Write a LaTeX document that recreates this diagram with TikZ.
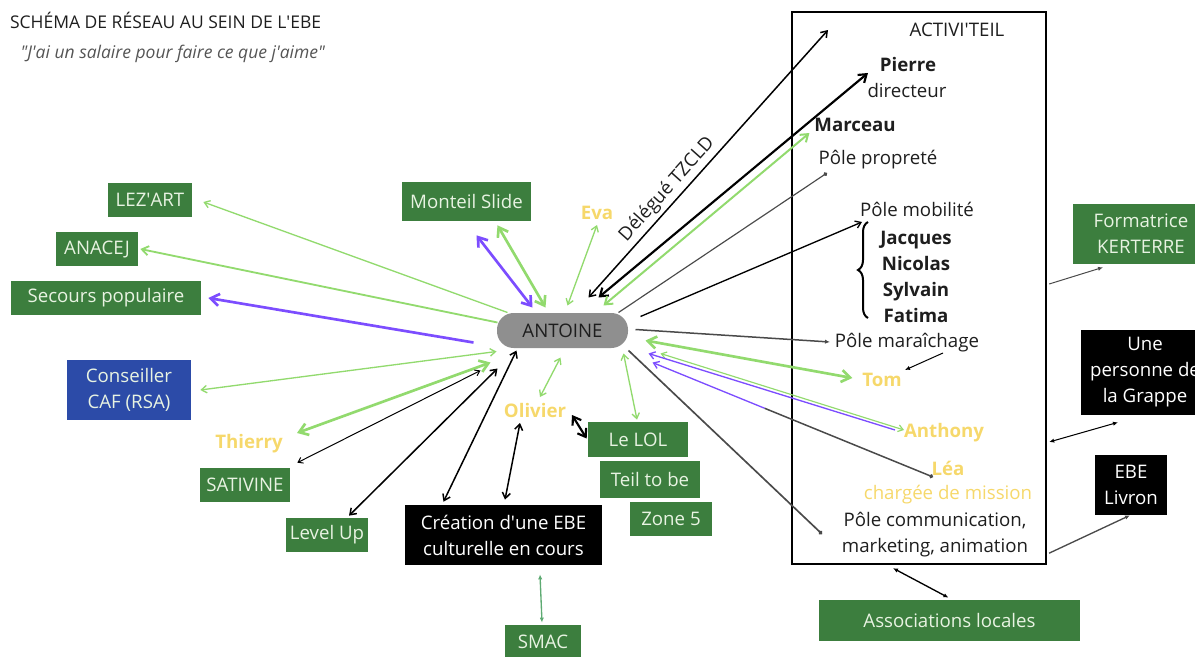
\documentclass[tikz,border=0pt]{standalone}
\usepackage{fontspec}
\setmainfont{Open Sans}
\usepackage{tikz}
\usetikzlibrary{calc,arrows.meta,decorations.pathreplacing,fit}
\definecolor{ink}{HTML}{1E1E1E}
\definecolor{muted}{HTML}{555555}
\definecolor{boxgreen}{HTML}{3C7E3E}
\definecolor{boxtext}{HTML}{E8F3E2}
\definecolor{cafblue}{HTML}{2C4BA8}
\definecolor{namey}{HTML}{F6D86B}
\definecolor{lgreen}{HTML}{92DA6E}
\definecolor{purp}{HTML}{7C4DFF}
\definecolor{pill}{HTML}{8F8F8F}
\definecolor{smacgreen}{HTML}{5DAA72}
\definecolor{wire}{HTML}{4A4A4A}
\newcommand{\ap}{\textquotesingle}
\tikzset{
  gbox/.style={fill=boxgreen, text=boxtext, inner sep=0pt, align=center},
  kbox/.style={fill=black, text=white, inner sep=0pt, align=center},
  lab/.style={text=ink, inner sep=1pt},
  who/.style={text=namey, font=\bfseries, inner sep=1pt},
  boss/.style={text=ink, font=\bfseries, inner sep=1pt},
  lg/.style={draw=lgreen, line width=0.8pt},
  lgb/.style={draw=lgreen, line width=1.6pt},
  pu/.style={draw=purp, line width=0.8pt},
  pub/.style={draw=purp, line width=1.6pt},
  bk/.style={draw=black, line width=0.9pt},
  gr/.style={draw=wire, line width=0.7pt},
  dotend/.style={-{Circle[length=2.4pt]}},
  small/.style={>={Latex[length=3pt,width=2.6pt]}}
}

\begin{document}
\fontsize{11.2pt}{15.6pt}\selectfont
\begin{tikzpicture}[x=0.6pt, y=-0.6pt, >={Straight Barb[angle=70:1.5pt 3]}]
  \clip (0,0) rectangle (1195,657);

  \node[lab, anchor=west, font=\fontsize{10.5pt}{13pt}\selectfont] (titre) at (8,20) {SCHÉMA DE RÉSEAU AU SEIN DE L\ap EBE};
  \node[anchor=west, text=muted, font=\fontsize{10.5pt}{13pt}\selectfont\itshape] (devise) at (14,54) {\textquotedbl J\ap ai un salaire pour faire ce que j\ap aime\textquotedbl};

  % cadre Activi'teil
  \node[draw=black, line width=1.4pt, fit={(792,12) (1046,564)}, inner sep=0pt] (activ) {};
  \node[lab] (activiteil) at (957,30) {ACTIVI\ap TEIL};
  \node[boss] (pierre) at (908,65) {Pierre};
  \node[lab] (directeur) at (907,91) {directeur};
  \node[boss] (marceau) at (855,125) {Marceau};
  \node[lab] (proprete) at (878,160) {Pôle propreté};
  \node[lab] (mobilite) at (917,209) {Pôle mobilité};
  \foreach \nom [count=\i] in {Jacques,Nicolas,Sylvain,Fatima}
    \node[boss, anchor=base] (equipe\i) at (916,218+26*\i) {\nom};
  \draw[black, line width=1.2pt, decorate, decoration={brace, amplitude=6pt}] (868,318) -- (868,222);
  \node[lab] (maraichage) at (907,343) {Pôle maraîchage};
  \node[who] (tom) at (882,380) {Tom};
  \node[who] (anthony) at (944,433) {Anthony};
  \node[who] (lea) at (948,468) {Léa};
  \node[lab, text=namey] (mission) at (948,495) {chargée de mission};
  \node[lab, align=center] (communication) at (935,535) {Pôle communication,\\marketing, animation};

  % partenaires
  \node[gbox, minimum width=81.6pt, minimum height=36pt] (kerterre) at (1141,234) {Formatrice\\KERTERRE};
  \node[kbox, minimum width=76.8pt, minimum height=51pt] (grappe) at (1145,372.5) {Une\\personne de\\la Grappe};
  \node[kbox, minimum width=43.2pt, minimum height=36pt] (livron) at (1131,485) {EBE\\Livron};
  \node[gbox, minimum width=156.6pt, minimum height=24.6pt] (assoc) at (949.5,620.5) {Associations locales};
  \node[gbox, minimum width=50.4pt, minimum height=20.4pt] (lezart) at (150,200) {LEZ\ap ART};
  \node[gbox, minimum width=49.2pt, minimum height=20.4pt] (anacej) at (97,249) {ANACEJ};
  \node[gbox, minimum width=114pt, minimum height=20.4pt] (secours) at (106,298) {Secours populaire};
  \node[gbox, fill=cafblue, minimum width=74.4pt, minimum height=36pt] (caf) at (129,390) {Conseiller\\CAF (RSA)};
  \node[who] (thierry) at (249,444) {Thierry};
  \node[gbox, minimum width=54pt, minimum height=20.4pt] (sativine) at (245,485) {SATIVINE};
  \node[gbox, minimum width=49.2pt, minimum height=20.4pt] (levelup) at (327,535) {Level Up};
  \node[kbox, minimum width=118.2pt, minimum height=36pt] (creation) at (503.5,535) {Création d\ap une EBE\\culturelle en cours};
  \node[gbox, minimum width=45.6pt, minimum height=20.4pt] (smac) at (543,642) {SMAC};
  \node[gbox, minimum width=77.4pt, minimum height=23.4pt] (monteil) at (466.5,201.5) {Monteil Slide};
  \node[who] (eva) at (597,213) {Eva};
  \node[who] (olivier) at (535,410) {Olivier};
  \node[gbox, minimum width=60pt, minimum height=21pt] (lelol) at (638,439.5) {Le LOL};
  \node[gbox, minimum width=60pt, minimum height=22.2pt] (teil) at (650,479.5) {Teil to be};
  \node[gbox, minimum width=49.2pt, minimum height=20.4pt] (zone) at (671,519) {Zone 5};
  \node[fill=pill, rounded corners=10pt, minimum width=78.6pt, minimum height=21pt, text=ink, inner sep=0pt] (antoine) at (562.5,330.5) {ANTOINE};
  \coordinate (tzcld) at (828,30);

  % liens
  \draw[lg, ->] ($(antoine)+(-55,-18)$) -- ($(lezart.east)+(11,2)$);
  \draw[lg, line width=1.1pt, ->] ($(antoine)+(-65,-8)$) -- ($(anacej.east)+(2,0)$);
  \draw[pub, ->] ($(antoine)+(-89,12)$) -- ($(secours.east)+(7,0)$);
  \draw[lg, <->] ($(antoine)+(-66,21)$) -- ($(caf.east)+(9,0)$);
  \draw[lgb, <->] ($(antoine)+(-72,32)$) -- ($(thierry)+(48,-11)$);
  \draw[bk, line width=0.6pt, <->] ($(antoine)+(-82,40)$) -- ($(sativine.north east)+(7,-5)$);
  \draw[bk, <->] ($(antoine)+(-65,38)$) -- ($(levelup.north)+(22,-2)$);
  \draw[bk, <->] ($(antoine)+(-46,20)$) -- ($(creation.north)+(-60,-3)$);
  \draw[bk, <->] ($(olivier)+(-15,13)$) -- ($(creation.north)+(1.5,-5)$);
  \draw[lg, <->] ($(antoine)+(-2,27)$) -- ($(olivier)+(5,-13)$);
  \draw[bk, line width=1.3pt, <->] ($(olivier)+(37,5)$) -- ($(lelol.west)+(-1,-1)$);
  \draw[lg, <->] ($(antoine)+(61,23)$) -- ($(lelol.north)+(-1,-2)$);
  \draw[pub, <->] ($(monteil.south)+(10,14)$) -- ($(antoine)+(-30,-23)$);
  \draw[lgb, <->] ($(monteil.south)+(31,4)$) -- ($(antoine)+(-17,-23)$);
  \draw[lg, <->] ($(eva)+(0,12)$) -- ($(antoine)+(5,-25)$);
  \draw[bk, <->] ($(antoine)+(26,-33)$) -- node[sloped, above, pos=0.37, text=ink, inner sep=2pt] (delegue) {Délégué TZCLD} (tzcld);
  \draw[bk, line width=1.3pt, <->] ($(antoine)+(36,-33)$) -- ($(pierre.west)+(-10,8)$);
  \draw[lg, line width=1.2pt, <->] ($(antoine)+(41,-25)$) -- ($(marceau.west)+(-3,8)$);
  \draw[gr, dotend] ($(antoine)+(56,-18)$) -- ($(proprete)+(-51,13)$);
  \draw[bk, line width=0.8pt, ->] ($(antoine)+(78,-14)$) -- ($(mobilite)+(-55,13)$);
  \draw[gr, line width=0.9pt, small, ->] ($(antoine)+(73,-1)$) -- ($(maraichage.west)+(-3,-1)$);
  \draw[lgb, <->] ($(antoine)+(83,10)$) -- ($(tom.west)+(-8,-2)$);
  \draw[bk, line width=0.6pt, small, ->] ($(maraichage)+(36,10)$) -- ($(tom)+(23,-10)$);
  \draw[lg, line width=0.7pt, <->] ($(antoine)+(98,23)$) -- ($(anthony.west)+(2,-3)$);
  \draw[pu, <-] ($(antoine)+(86,23)$) -- ($(anthony.west)+(-7,-3)$);
  \coordinate (leadebut) at ($(antoine)+(90,32)$);
  \coordinate (leafin) at ($(lea)+(-15,9)$);
  \coordinate (leamilieu) at ($(leadebut)!0.4!(leafin)$);
  \draw[pu, <-] (leadebut) -- (leamilieu);
  \draw[gr, line width=0.9pt, dotend] (leamilieu) -- (leafin);
  \draw[gr, line width=1pt, dotend] ($(antoine)+(66,20)$) -- ($(communication)+(-113,-1)$);
  \draw[gr, line width=0.6pt, small, ->] ($(activ.east)+(2,-4)$) -- ($(kerterre.south)+(-38,3)$);
  \draw[bk, line width=0.6pt, small, <->] ($(activ.east)+(2,154)$) -- ($(grappe.south)+(-27,7)$);
  \draw[gr, line width=0.8pt, small, ->] ($(activ.south east)+(2,-12)$) -- ($(livron.south)+(-1,0)$);
  \draw[bk, line width=0.8pt, small, <->] ($(activ.south)+(-26,3)$) -- ($(assoc.north)+(-1,-2)$);
  \draw[draw=smacgreen, line width=0.8pt, small, <->] ($(creation.south)+(36.5,9)$) -- ($(smac.north)+(-1,-2)$);
\end{tikzpicture}
\end{document}
